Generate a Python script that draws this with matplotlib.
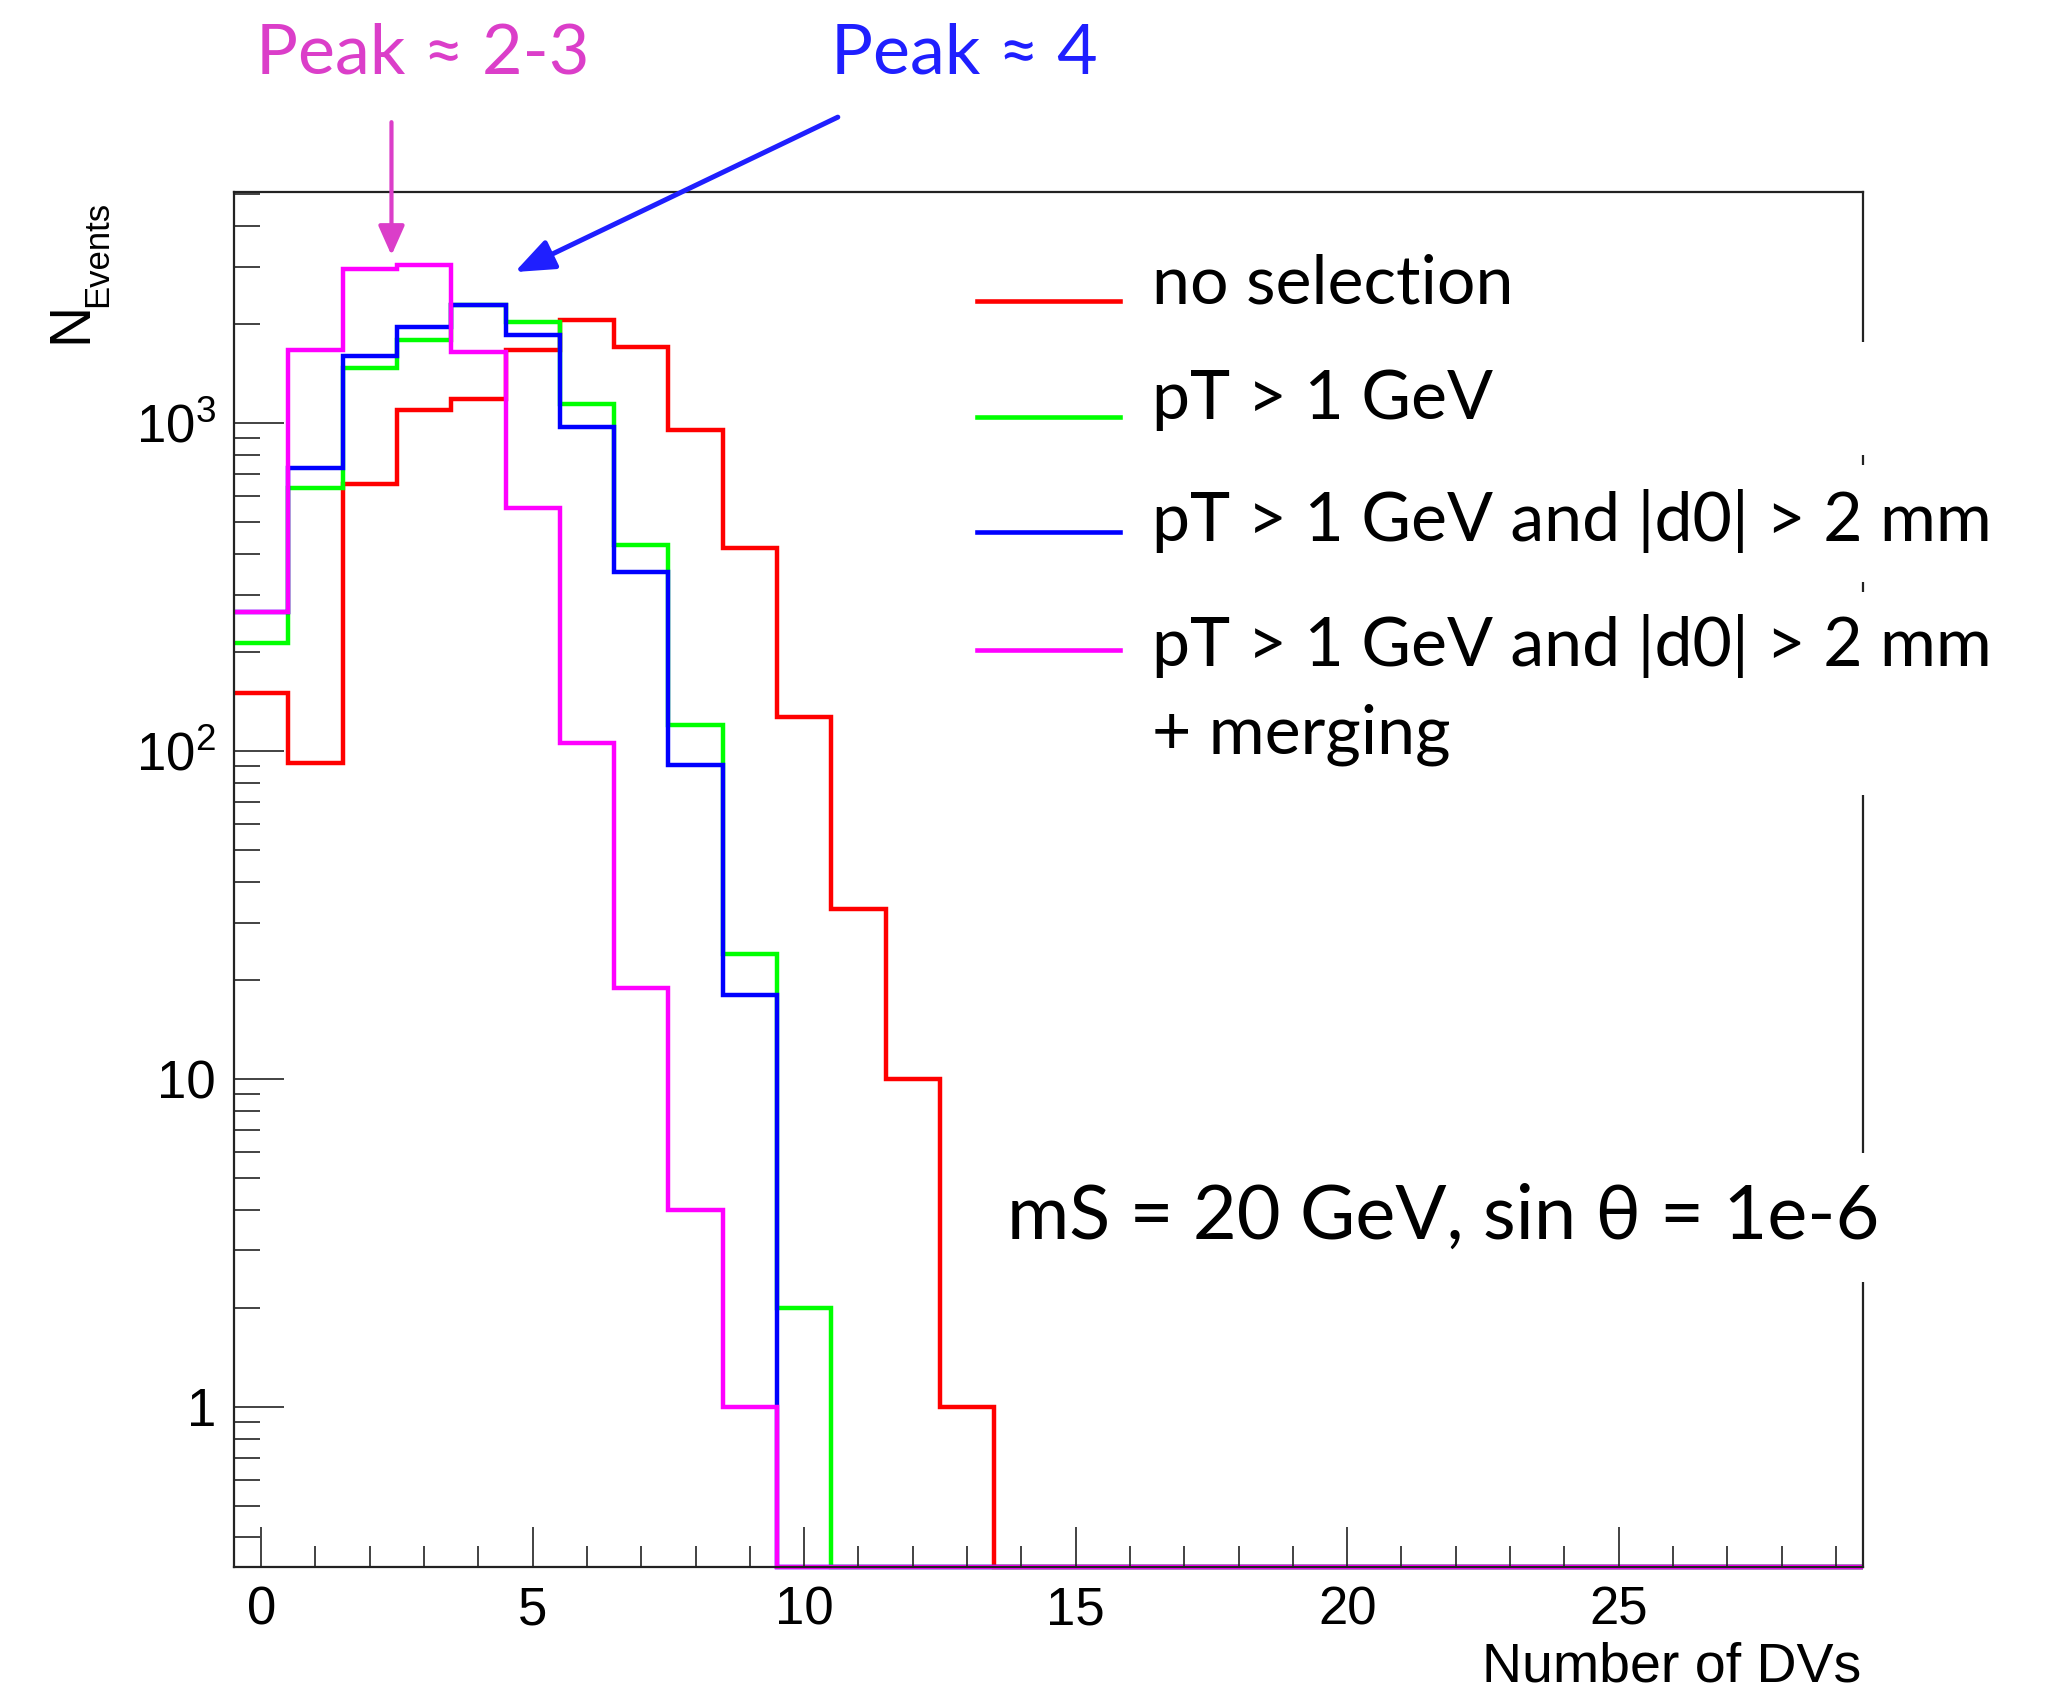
import numpy as np
import matplotlib
matplotlib.use('Agg')
import matplotlib.pyplot as plt
from matplotlib.ticker import FixedLocator, LogLocator, NullFormatter, FixedFormatter
from matplotlib.patches import Rectangle
from matplotlib.lines import Line2D

# bin edges of the "Number of DVs" histogram (unit bins centred on 0..29)
edges = np.arange(-0.5, 30.5, 1.0)

no_selection = [150, 92, 654, 1100, 1185, 1667, 2066, 1703, 955, 417,
                127, 33, 10, 1, 0, 0, 0, 0, 0, 0,
                0, 0, 0, 0, 0, 0, 0, 0, 0, 0]
pt_1gev = [214, 634, 1477, 1795, 2301, 2028, 1143, 425, 120, 24,
           2, 0, 0, 0, 0, 0, 0, 0, 0, 0,
           0, 0, 0, 0, 0, 0, 0, 0, 0, 0]
pt_d0 = [266, 730, 1600, 1958, 2301, 1855, 973, 351, 91, 18,
         0, 0, 0, 0, 0, 0, 0, 0, 0, 0,
         0, 0, 0, 0, 0, 0, 0, 0, 0, 0]
pt_d0_merge = [266, 1667, 2953, 3034, 1644, 551, 106, 19, 4, 1,
               0, 0, 0, 0, 0, 0, 0, 0, 0, 0,
               0, 0, 0, 0, 0, 0, 0, 0, 0, 0]

labels = ["no selection", "pT > 1 GeV", "pT > 1 GeV and |d0| > 2 mm",
          "pT > 1 GeV and |d0| > 2 mm\n+ merging"]
colors = ['#FF0000', '#00FF00', '#0000FF', '#FF00FF']

ytick_vals = [1, 10, 100, 1000]
ytick_labels = ['1', '10', '$10^{2}$', '$10^{3}$']
xtick_vals = [0, 5, 10, 15, 20, 25]

YMIN, YMAX = 0.325, 5070

plt.rcParams['mathtext.default'] = 'regular'
plt.rcParams['font.family'] = ['Liberation Sans', 'DejaVu Sans']

W, H = 2050, 1691
fig = plt.figure(figsize=(W / 100, H / 100), dpi=100)
ax = fig.add_axes([234 / W, 1 - 1567 / H, (1863 - 234) / W, (1567 - 192) / H])

series = [no_selection, pt_1gev, pt_d0, pt_d0_merge]
for vals, c in zip(series, colors):
    # empty bins sit on the bottom of the frame, like ROOT does
    v = np.maximum(np.array(vals, dtype=float), YMIN)
    ax.stairs(v, edges, baseline=None, color=c, linewidth=3.2, clip_on=False)

ax.set_yscale('log')
ax.set_xlim(-0.5, 29.5)
ax.set_ylim(YMIN, YMAX)

ax.yaxis.set_major_locator(FixedLocator(ytick_vals))
ax.yaxis.set_major_formatter(FixedFormatter(ytick_labels))
ax.yaxis.set_minor_locator(LogLocator(base=10, subs=np.arange(2, 10)))
ax.yaxis.set_minor_formatter(NullFormatter())
ax.xaxis.set_major_locator(FixedLocator(xtick_vals))
ax.xaxis.set_minor_locator(FixedLocator(np.arange(0, 30)))

ax.tick_params(axis='y', which='major', direction='in', length=36, width=1.2,
               labelsize=38, pad=13, right=False, color='#222222')
ax.tick_params(axis='y', which='minor', direction='in', length=19, width=1.2,
               right=False, color='#222222')
ax.tick_params(axis='x', which='major', direction='in', length=29, width=1.2,
               labelsize=38, pad=13, top=False, color='#222222')
ax.tick_params(axis='x', which='minor', direction='in', length=15, width=1.2,
               top=False, color='#222222')
for s in ax.spines.values():
    s.set_linewidth(1.6)
    s.set_color('#222222')

# axis titles (ROOT style)
fig.text(1861 / W, 1 - 1681 / H, 'Number of DVs', ha='right', va='baseline', fontsize=40)
fig.text(71 / W, 1 - 343 / H, 'N', rotation=90, ha='center', va='bottom', fontsize=41)
fig.text(98 / W, 1 - 307 / H, 'Events', rotation=90, ha='center', va='bottom', fontsize=25)

# white text boxes pasted over the right frame
for y0, y1 in [(342, 455), (465, 582), (592, 795), (1153, 1282)]:
    fig.add_artist(Rectangle((1845 / W, 1 - y1 / H), 40 / W, (y1 - y0) / H,
                             transform=fig.transFigure, facecolor='white',
                             edgecolor='none', zorder=5))

tfont = ['Lato', 'DejaVu Sans']
# legend drawn by hand
leg_line_y = [301, 417, 532, 650]
leg_text_y = [303, 419, 541, 666]
for lab, c, ly, ty in zip(labels, colors, leg_line_y, leg_text_y):
    fig.add_artist(Line2D([977 / W, 1120 / W], [1 - ly / H, 1 - ly / H],
                          transform=fig.transFigure, color=c, lw=3.3, zorder=6))
    lines = lab.split('\n')
    fig.text(1152 / W, 1 - ty / H, lines[0], ha='left', va='baseline',
             fontsize=49, family=tfont, zorder=10)
    if len(lines) > 1:
        fig.text(1152 / W, 1 - 754 / H, lines[1], ha='left', va='baseline',
                 fontsize=49, family=tfont, zorder=10)

fig.text(1007 / W, 1 - 1239 / H, 'mS = 20 GeV, sin \u03b8 = 1e-6', ha='left',
         va='baseline', fontsize=54.5, family=tfont, zorder=10)

# peak annotations
fig.text(256 / W, 1 - 73 / H, 'Peak \u2248 2-3', ha='left', va='baseline',
         fontsize=50.5, family=tfont, color='#DB3EC9')
fig.text(831 / W, 1 - 73 / H, 'Peak \u2248 4', ha='left', va='baseline',
         fontsize=50.5, family=tfont, color='#1F1FFF')
ax.annotate('', xy=(2.4, 3250), xytext=(2.4, 8280), annotation_clip=False,
            arrowprops=dict(arrowstyle='-|>,head_length=1.8,head_width=0.8',
                            mutation_scale=10, lw=3, color='#DB3EC9',
                            shrinkA=0, shrinkB=0))
ax.annotate('', xy=(4.67, 2890), xytext=(10.62, 8576), annotation_clip=False,
            arrowprops=dict(arrowstyle='-|>,head_length=2.4,head_width=0.95',
                            mutation_scale=10, lw=3.6, color='#1F1FFF',
                            shrinkA=0, shrinkB=0))

fig.savefig('out.png', dpi=100)
